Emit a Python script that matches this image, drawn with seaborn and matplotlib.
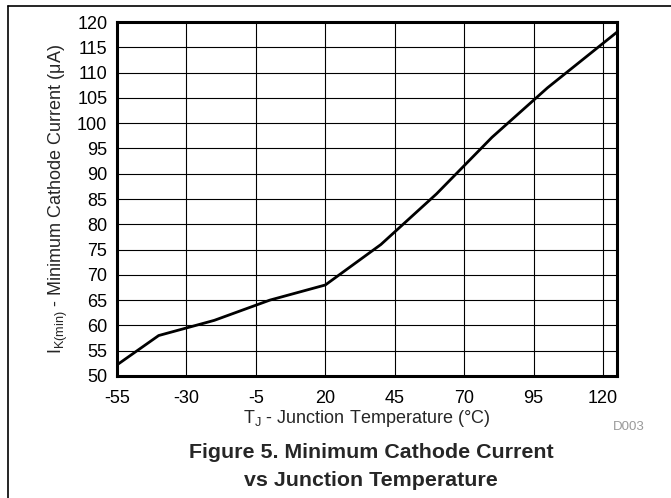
"""
Minimum cathode current vs junction temperature (Figure 5).
"""

import matplotlib
matplotlib.use("Agg")
import matplotlib.pyplot as plt
from matplotlib.lines import Line2D
import seaborn as sns
import pandas as pd

# Data
temperature = [-55, -40, -20, 0, 20, 40, 60, 80, 100, 125]
cathode_current = [52.2, 58.0, 61.0, 65.0, 68.0, 76.0, 86.0, 97.2, 107.0, 118.0]
x_ticks = [-55, -30, -5, 20, 45, 70, 95, 120]
y_ticks = list(range(50, 121, 5))

sns.set_style("white")
plt.rcParams['font.family'] = ['Liberation Sans', 'DejaVu Sans']
plt.rcParams['font.size'] = 13
plt.rcParams['axes.unicode_minus'] = False

df = pd.DataFrame({'temp': temperature, 'ik': cathode_current})

fig = plt.figure(figsize=(6.71, 4.98), dpi=100)
ax = fig.add_axes([0.1744, 0.245, 0.7451, 0.7108])

sns.lineplot(data=df, x='temp', y='ik', ax=ax, color='black', linewidth=2.0)

ax.set_xlim(-55, 125)
ax.set_ylim(50, 120)
ax.set_xticks(x_ticks)
ax.set_yticks(y_ticks)
ax.grid(True, color='black', linewidth=0.8)
ax.tick_params(axis='both', length=0, labelsize=13, colors='black')
ax.tick_params(axis='x', pad=10)
ax.tick_params(axis='y', pad=7)
for spine in ax.spines.values():
    spine.set_visible(True)
    spine.set_color('black')
    spine.set_linewidth(2.2)

ax.set_xlabel(r'T$_\mathregular{J}$ - Junction Temperature (°C)', fontsize=13, labelpad=0.5)
ax.set_ylabel(r'I$_\mathregular{K(min)}$ - Minimum Cathode Current ($\mathregular{\mu}$A)',
              fontsize=13, labelpad=5)

fig.text(629 / 671, 1 - 427 / 498, 'D003', color='#999999', fontsize=9.5,
         ha='center', va='center')
fig.text(371 / 671, 1 - 452 / 498, 'Figure 5. Minimum Cathode Current',
         fontsize=15.4, fontweight='bold', ha='center', va='center')
fig.text(371 / 671, 1 - 480 / 498, 'vs Junction Temperature',
         fontsize=15.4, fontweight='bold', ha='center', va='center')

# document frame (top and left edges)
fig.add_artist(Line2D([8 / 671, 1.0], [1 - 6 / 498, 1 - 6 / 498],
                      color='black', linewidth=1.2))
fig.add_artist(Line2D([8 / 671, 8 / 671], [0.0, 1 - 6 / 498],
                      color='black', linewidth=1.2))

fig.savefig('out.png', dpi=100)
